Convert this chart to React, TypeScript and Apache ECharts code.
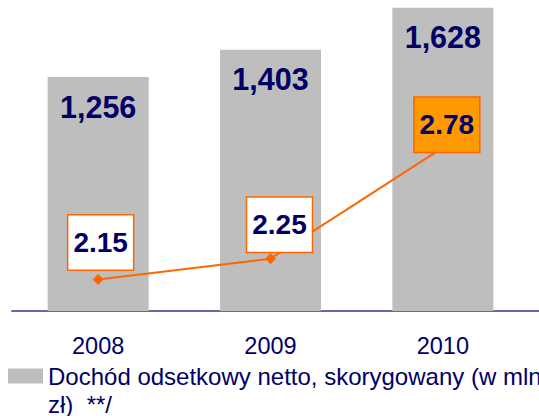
import React, { useEffect, useRef } from "react";
import * as echarts from "echarts";

const years = ["2008", "2009", "2010"];
const netInterestIncome = [1256, 1403, 1628];
const marginValues = [2.15, 2.25, 2.78];
const legendLabel = "Dochód odsetkowy netto, skorygowany (w mln zł)  **/";

const FONT = "'Liberation Sans', Arial, Helvetica, sans-serif";
const NAVY = "#000066";
const ORANGE = "#FF6600";

export default function App() {
  const ref = useRef<HTMLDivElement>(null);

  useEffect(() => {
    document.body.style.margin = "0";
    if (!ref.current) return;
    const chart = echarts.init(ref.current, null, { renderer: "svg" });
    const labelOffsets = [
      [2.5, -37],
      [9, -34],
      [4, -23],
    ];
    chart.setOption({
      animation: false,
      grid: { left: 12, right: 10, top: 0, bottom: 105, containLabel: false },
      legend: {
        data: [legendLabel],
        left: 8,
        top: 334,
        padding: 0,
        itemWidth: 35,
        itemHeight: 15,
        icon: "rect",
        formatter: () => "\nDochód odsetkowy netto, skorygowany (w mln\nzł)  **/",
        textStyle: { fontSize: 24, color: NAVY, fontFamily: FONT, lineHeight: 28 },
      },
      xAxis: {
        type: "category",
        data: years,
        axisTick: { show: false },
        axisLine: { lineStyle: { color: "#6666AA", width: 2 } },
        axisLabel: { fontSize: 23.5, color: NAVY, fontFamily: FONT, margin: 23 },
      },
      yAxis: [
        { type: "value", min: 0, max: 1670, show: false, splitLine: { show: false } },
        { type: "value", min: 2, max: 3.485, show: false, splitLine: { show: false } },
      ],
      graphic: [
        {
          type: "line",
          shape: { x1: 528, y1: 311, x2: 539, y2: 311 },
          style: { stroke: "#6666AA", lineWidth: 2 },
        },
      ],
      series: [
        {
          name: legendLabel,
          type: "bar",
          data: netInterestIncome,
          barWidth: 101,
          itemStyle: { color: "#BEBEBE" },
          label: {
            show: true,
            position: "insideTop",
            distance: 14,
            fontSize: 30.5,
            fontWeight: "bold",
            color: NAVY,
            fontFamily: FONT,
            formatter: (p: any) => Number(p.value).toLocaleString("en-US"),
          },
        },
        {
          name: "margin",
          type: "line",
          yAxisIndex: 1,
          data: marginValues.map((v, i) => ({
            value: v,
            label: {
              offset: labelOffsets[i],
              backgroundColor: i === 2 ? "#FF9900" : "#FFFFFF",
            },
          })),
          symbol: "diamond",
          symbolSize: 11,
          lineStyle: { color: ORANGE, width: 2 },
          itemStyle: { color: ORANGE },
          label: {
            show: true,
            position: "inside",
            fontSize: 28,
            fontWeight: "bold",
            color: NAVY,
            fontFamily: FONT,
            lineHeight: 28,
            padding: [13, 5],
            borderColor: ORANGE,
            borderWidth: 1.5,
            backgroundColor: "#FFFFFF",
            formatter: (p: any) => Number(p.value).toFixed(2),
          },
        },
      ],
    });
    return () => chart.dispose();
  }, []);

  return <div ref={ref} style={{ width: 539, height: 416 }} />;
}
